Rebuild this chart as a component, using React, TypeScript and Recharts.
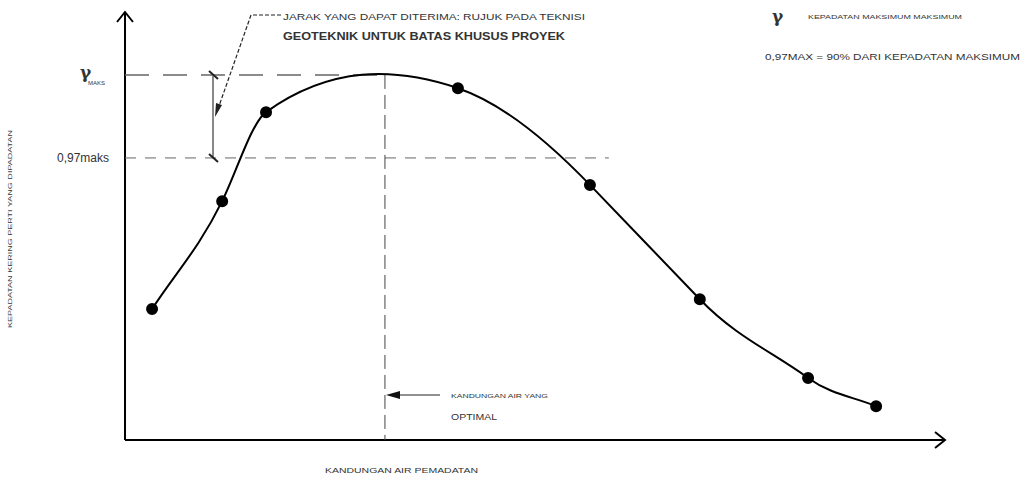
import React from "react";
import { LineChart, Line, XAxis, YAxis, ReferenceLine } from "recharts";

// water content (%) and dry density (relative units)
const moisture = [0.66, 2.37, 3.44, 8.12, 11.34, 14.02, 16.66, 18.32];
const density = [30.6, 55.8, 76.6, 82.2, 59.6, 32.9, 14.5, 7.9];

const maxDensity = 85.3;
const density97 = 65.9;
const optimumMoisture = 6.34;

const data = moisture.map((m, i) => ({ w: m, d: density[i] }));

const font = "'Liberation Sans', Arial, sans-serif";
const ink = "#333";

// loose cardinal spline in x: a bit of overshoot at the peak, clamped on the flanks
function smoothX(context: any) {
  let xs: number[] = [];
  let ys: number[] = [];
  const s = 1.5;
  return {
    areaStart() {},
    areaEnd() {},
    lineStart() {
      xs = [];
      ys = [];
    },
    point(x: number, y: number) {
      xs.push(+x);
      ys.push(+y);
    },
    lineEnd() {
      const n = xs.length;
      if (!n) return;
      context.moveTo(xs[0], ys[0]);
      if (n < 3) {
        for (let i = 1; i < n; i++) context.lineTo(xs[i], ys[i]);
        return;
      }
      const sec: number[] = [];
      for (let i = 0; i < n - 1; i++) sec.push((ys[i + 1] - ys[i]) / (xs[i + 1] - xs[i]));
      const m: number[] = [];
      for (let i = 0; i < n; i++) {
        if (i === 0) { m.push(sec[0]); continue; }
        if (i === n - 1) { m.push(sec[n - 2]); continue; }
        const cr = (s * (ys[i + 1] - ys[i - 1])) / (xs[i + 1] - xs[i - 1]);
        const a = sec[i - 1], b = sec[i];
        if (a * b > 0) {
          const lo = Math.min(a, b), hi = Math.max(a, b);
          m.push(Math.max(lo, Math.min(hi, cr)));
        } else m.push(cr);
      }
      for (let i = 0; i < n - 1; i++) {
        const d = (xs[i + 1] - xs[i]) / 3;
        context.bezierCurveTo(xs[i] + d, ys[i] + m[i] * d, xs[i + 1] - d, ys[i + 1] - m[i + 1] * d, xs[i + 1], ys[i + 1]);
      }
    },
  };
}

export default function App() {
  return (
    <div style={{ position: "absolute", left: 0, top: 0, width: 1027, height: 479, background: "#fff" }}>
      <LineChart
        width={1027}
        height={479}
        data={data}
        margin={{ top: 12, right: 82, bottom: 39, left: 125 }}
      >
        <XAxis dataKey="w" type="number" domain={[0, 20]} hide />
        <YAxis type="number" domain={[0, 100]} hide />
        {/* axes */}
        <ReferenceLine y={0} stroke="#000" strokeWidth={2} />
        <ReferenceLine x={0} stroke="#000" strokeWidth={2} />
        {/* guide lines */}
        <ReferenceLine
          segment={[{ x: 0, y: maxDensity }, { x: optimumMoisture, y: maxDensity }]}
          stroke="#666"
          strokeWidth={1.5}
          strokeDasharray="24 14"
        />
        <ReferenceLine
          segment={[{ x: 0, y: density97 }, { x: 11.8, y: density97 }]}
          stroke="#666"
          strokeWidth={1}
          strokeDasharray="11 9"
        />
        <ReferenceLine
          segment={[{ x: optimumMoisture, y: maxDensity }, { x: optimumMoisture, y: 0 }]}
          stroke="#444"
          strokeWidth={1}
          strokeDasharray="14 6"
        />
        <Line
          dataKey="d"
          type={smoothX as any}
          stroke="#000"
          strokeWidth={2}
          dot={{ r: 5, fill: "#000", stroke: "#000" }}
          isAnimationActive={false}
        />
      </LineChart>

      <svg
        width={1027}
        height={479}
        style={{ position: "absolute", left: 0, top: 0, pointerEvents: "none" }}
        fontFamily={font}
        fill={ink}
      >
        {/* axis arrowheads */}
        <polyline points="117,22 125,12 133,22" fill="none" stroke="#000" strokeWidth={2} />
        <polyline points="935,432 945,440 935,448" fill="none" stroke="#000" strokeWidth={2} />

        {/* y labels */}
        <text x={80} y={78} fontSize={17} fontFamily="'DejaVu Serif', serif" fontWeight={700}>γ</text>
        <text x={88} y={85} fontSize={6}>MAKS</text>
        <text x={57} y={162} fontSize={12}>0,97maks</text>

        {/* bracket */}
        <line x1={213} y1={75} x2={213} y2={158} stroke="#888" strokeWidth={2} />
        <line x1={209} y1={71} x2={218} y2={79} stroke="#222" strokeWidth={2} />
        <line x1={209} y1={154} x2={218} y2={162} stroke="#222" strokeWidth={2} />

        {/* leader to bracket */}
        <polyline points="281,15 251,15 219,106" fill="none" stroke="#222" strokeWidth={1.2} strokeDasharray="4 2" />
        <polygon points="215,117 216,103 222,105" fill="#222" />
        <text x={283} y={20} fontSize={9.5} textLength={302} lengthAdjust="spacingAndGlyphs">
          JARAK YANG DAPAT DITERIMA: RUJUK PADA TEKNISI
        </text>
        <text x={283} y={40} fontSize={11} fontWeight={700} textLength={282} lengthAdjust="spacingAndGlyphs">
          GEOTEKNIK UNTUK BATAS KHUSUS PROYEK
        </text>

        {/* legend notes */}
        <text x={772} y={22} fontSize={17} fontFamily="'DejaVu Serif', serif" fontWeight={700}>γ</text>
        <text x={808} y={19} fontSize={6} textLength={154} lengthAdjust="spacingAndGlyphs">
          KEPADATAN MAKSIMUM MAKSIMUM
        </text>
        <text x={765} y={60} fontSize={8.5} textLength={255} lengthAdjust="spacingAndGlyphs">
          0,97MAX = 90% DARI KEPADATAN MAKSIMUM
        </text>

        {/* optimum note */}
        <line x1={440} y1={395} x2={398} y2={395} stroke="#222" strokeWidth={1} />
        <polygon points="386,395 400,391 400,399" fill="#111" />
        <text x={451} y={398} fontSize={6} textLength={97} lengthAdjust="spacingAndGlyphs">
          KANDUNGAN AIR YANG
        </text>
        <text x={451} y={420} fontSize={9} textLength={46} lengthAdjust="spacingAndGlyphs">
          OPTIMAL
        </text>

        {/* axis titles */}
        <text x={325} y={473} fontSize={8} textLength={153} lengthAdjust="spacingAndGlyphs">
          KANDUNGAN AIR PEMADATAN
        </text>
        <text
          x={0}
          y={0}
          fontSize={6}
          textAnchor="middle"
          textLength={198}
          lengthAdjust="spacingAndGlyphs"
          transform="translate(12,229) rotate(-90)"
        >
          KEPADATAN KERING PERTI YANG DIPADATAN
        </text>
      </svg>
    </div>
  );
}
